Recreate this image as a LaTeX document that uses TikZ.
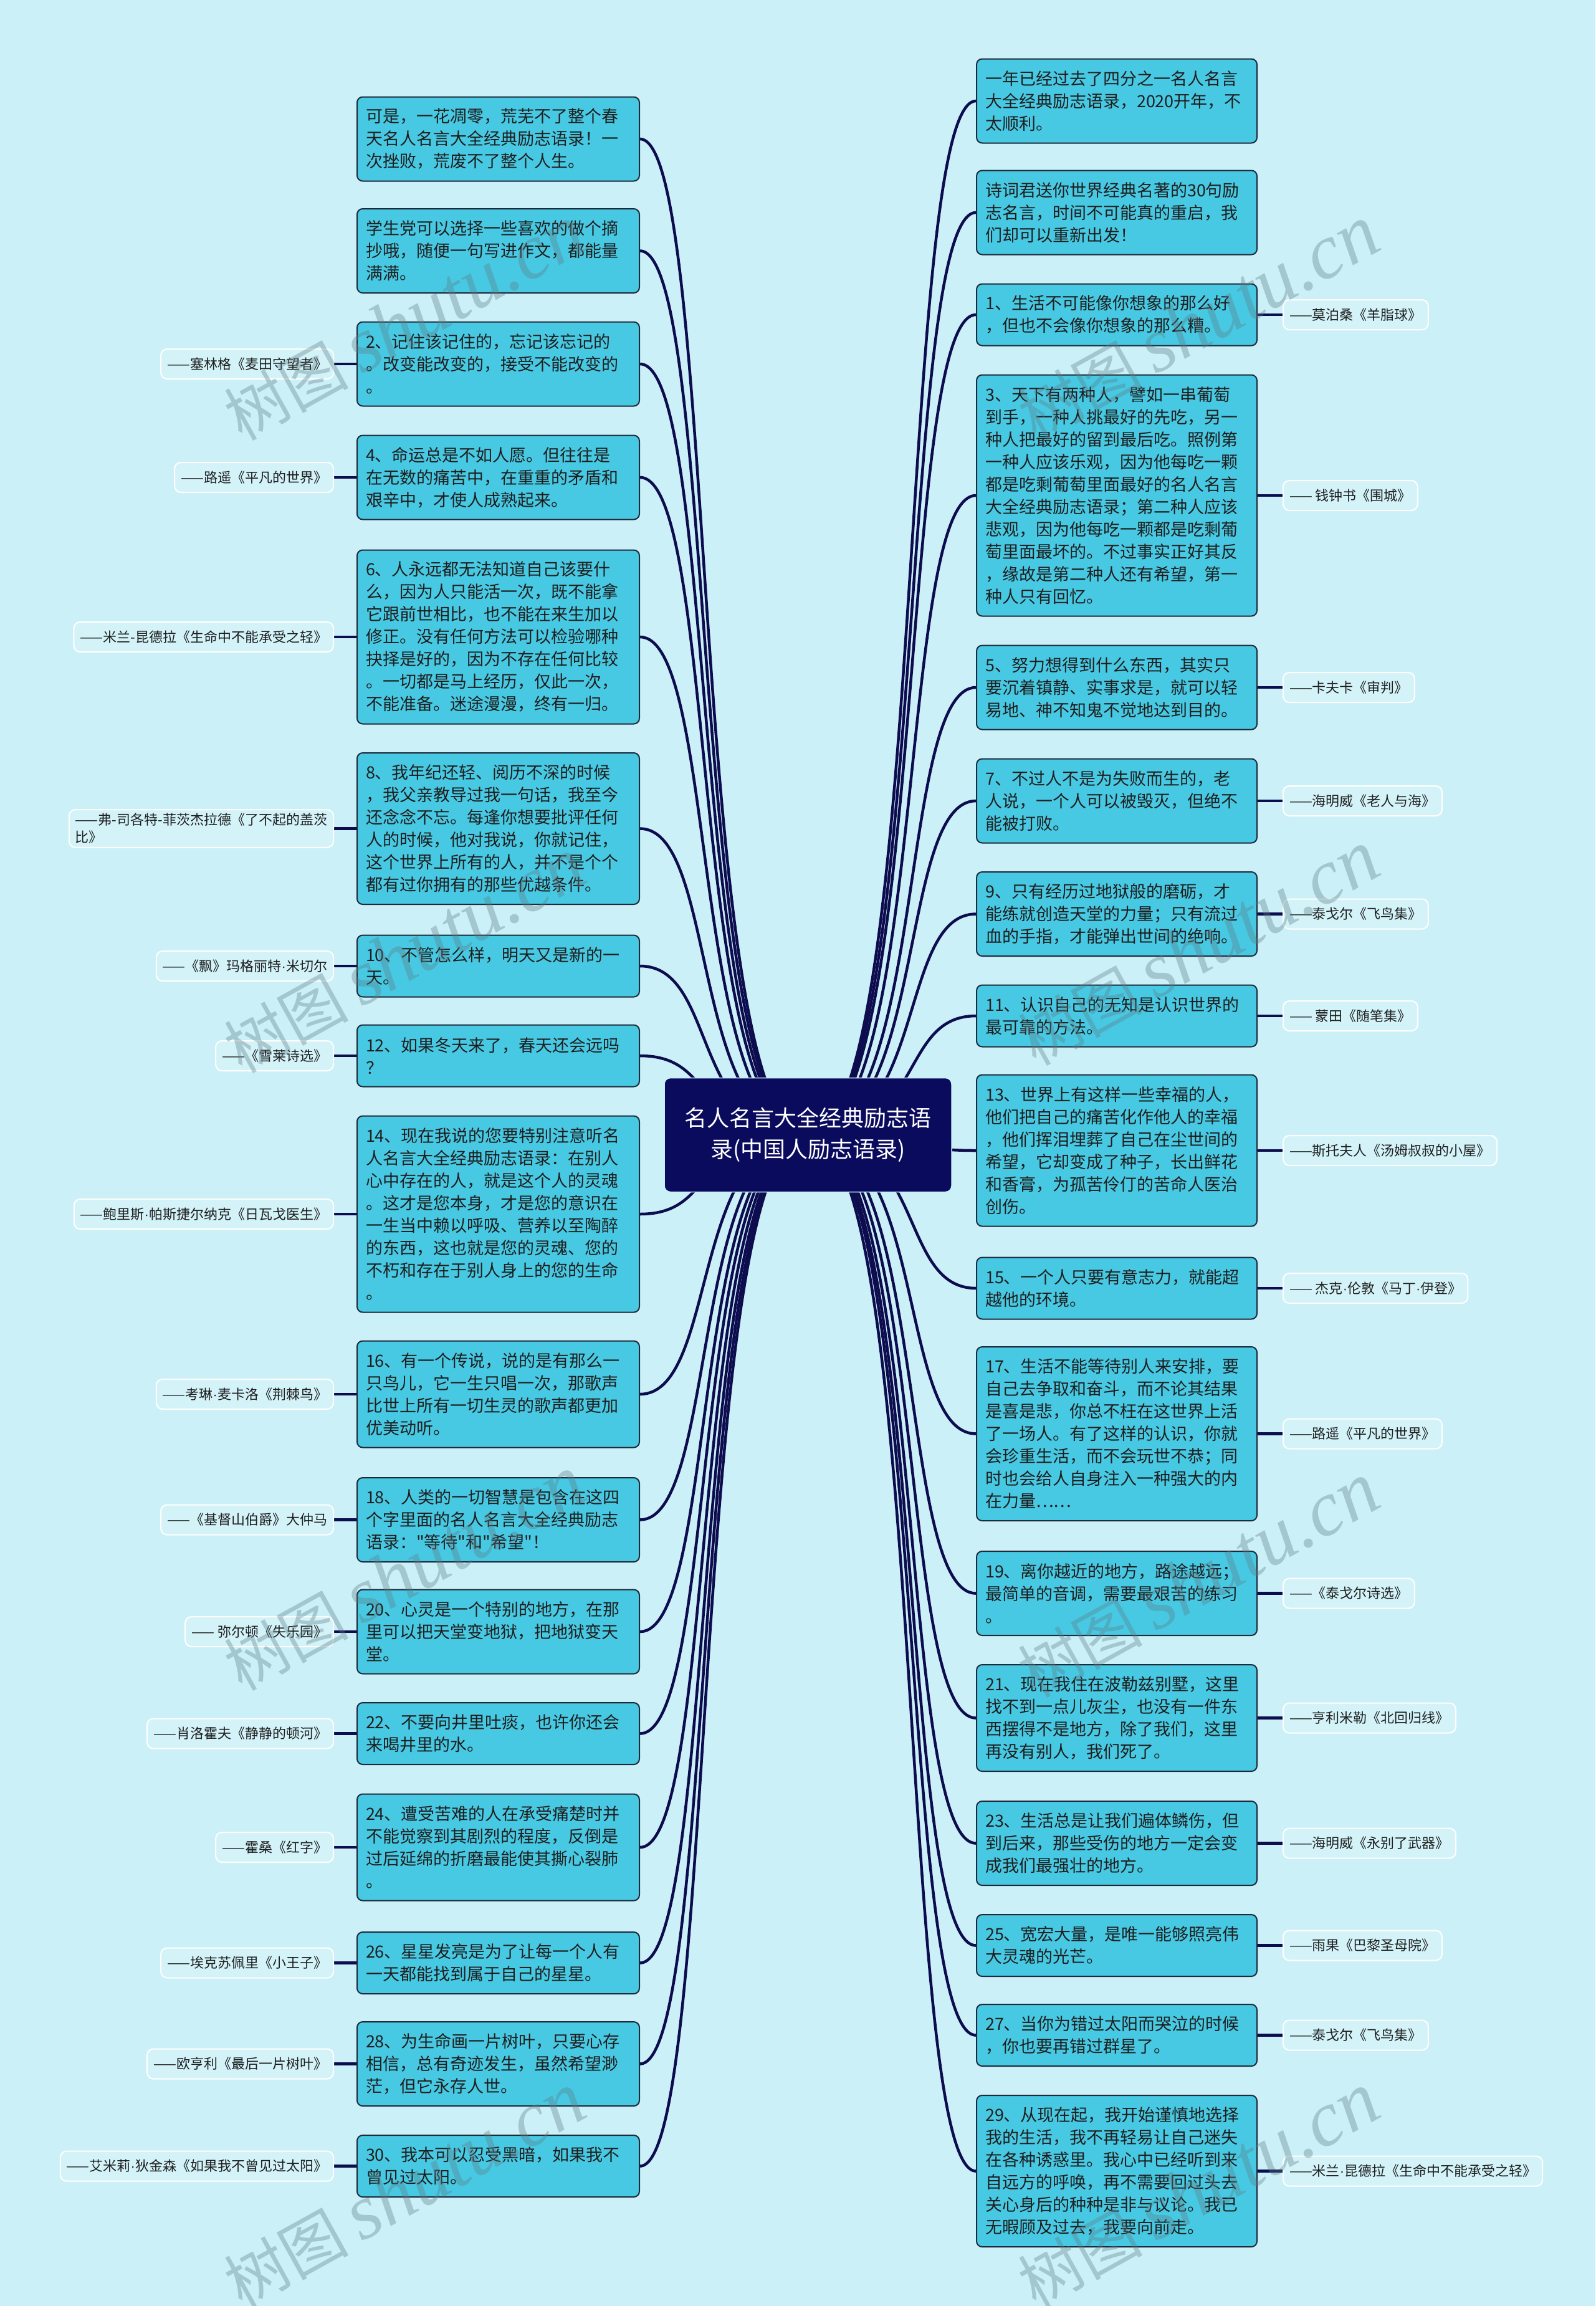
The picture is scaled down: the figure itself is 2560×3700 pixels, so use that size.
\documentclass[tikz,border=0pt]{standalone}
\usepackage{fontspec}
\setmainfont{Noto Sans CJK SC}
\newfontfamily\wmlatin{Liberation Serif}
\newfontfamily\latinf{Liberation Sans}
\newfontfamily\qf{Noto Sans CJK SC}
\newcommand\md{{\latinf\textperiodcentered}}
\newcommand\sq{{\qf"}}
\pgfdeclarelayer{bg}
\pgfdeclarelayer{fg}
\pgfsetlayers{bg,main,fg}
\definecolor{bgc}{HTML}{CCF0F7}
\definecolor{boxc}{HTML}{48C9E3}
\definecolor{boxb}{HTML}{1E2A3A}
\definecolor{navy}{HTML}{0C0C4E}
\definecolor{rootc}{HTML}{0B0B5E}
\definecolor{lblf}{HTML}{D3F3F9}
\definecolor{txtc}{HTML}{1E1E1E}
\definecolor{wmc}{HTML}{5E7C86}
\tikzset{
  qbox/.style={draw=boxb, line width=2pt, fill=boxc, rounded corners=9pt, align=left,
    inner xsep=14pt, inner ysep=0pt, font=\fontsize{27}{36}\selectfont, text=txtc, minimum height=#1},
  lq/.style={qbox={#1}, text width=425pt},
  rq/.style={qbox={#1}, text width=422pt},
  lbl/.style={draw=white, line width=2pt, fill=lblf, rounded corners=10pt, align=left,
    inner xsep=10pt, inner ysep=6pt, minimum height=48pt, font=\fontsize{22}{28}\selectfont, text=txtc},
  lblL/.style={lbl, anchor=east},
  lblR/.style={lbl, anchor=west},
  conn/.style={draw=navy, line width=4.5pt},
  rootn/.style={draw=white!70!boxc, line width=1.5pt, fill=rootc, rounded corners=10pt, align=center,
    text=white, minimum width=461pt, minimum height=183pt, font=\fontsize{36}{50}\selectfont},
  wmark/.style={text=wmc, text opacity=0.36, rotate=29, inner sep=0pt}
}
\begin{document}
\begin{tikzpicture}[x=1pt,y=-1pt]
\useasboundingbox (0,0) rectangle (2560,3700);
\begin{pgfonlayer}{bg}
\fill[bgc] (0,0) rectangle (2560,3700);
\end{pgfonlayer}

% ---------- left boxes ----------
\node[lq=135pt] (L1) at (799.5,223) {可是，一花凋零，荒芜不了整个春\\天名人名言大全经典励志语录！一\\次挫败，荒废不了整个人生。};
\node[lq=135pt] (L2) at (799.5,402.5) {学生党可以选择一些喜欢的做个摘\\抄哦，随便一句写进作文，都能量\\满满。};
\node[lq=135pt] (L3) at (799.5,584) {2、记住该记住的，忘记该忘记的\\。改变能改变的，接受不能改变的\\。};
\node[lq=135pt] (L4) at (799.5,766) {4、命运总是不如人愿。但往往是\\在无数的痛苦中，在重重的矛盾和\\艰辛中，才使人成熟起来。};
\node[lq=279pt] (L5) at (799.5,1022) {6、人永远都无法知道自己该要什\\么，因为人只能活一次，既不能拿\\它跟前世相比，也不能在来生加以\\修正。没有任何方法可以检验哪种\\抉择是好的，因为不存在任何比较\\。一切都是马上经历，仅此一次，\\不能准备。迷途漫漫，终有一归。};
\node[lq=243pt] (L6) at (799.5,1329.5) {8、我年纪还轻、阅历不深的时候\\，我父亲教导过我一句话，我至今\\还念念不忘。每逢你想要批评任何\\人的时候，他对我说，你就记住，\\这个世界上所有的人，并不是个个\\都有过你拥有的那些优越条件。};
\node[lq=99pt] (L7) at (799.5,1550) {10、不管怎么样，明天又是新的一\\天。};
\node[lq=99pt] (L8) at (799.5,1694) {12、如果冬天来了，春天还会远吗\\？};
\node[lq=315pt] (L9) at (799.5,1948) {14、现在我说的您要特别注意听名\\人名言大全经典励志语录：在别人\\心中存在的人，就是这个人的灵魂\\。这才是您本身，才是您的意识在\\一生当中赖以呼吸、营养以至陶醉\\的东西，这也就是您的灵魂、您的\\不朽和存在于别人身上的您的生命\\。};
\node[lq=171pt] (L10) at (799.5,2237) {16、有一个传说，说的是有那么一\\只鸟儿，它一生只唱一次，那歌声\\比世上所有一切生灵的歌声都更加\\优美动听。};
\node[lq=135pt] (L11) at (799.5,2438.5) {18、人类的一切智慧是包含在这四\\个字里面的名人名言大全经典励志\\语录：\sq 等待\sq 和\sq 希望\sq ！};
\node[lq=135pt] (L12) at (799.5,2618) {20、心灵是一个特别的地方，在那\\里可以把天堂变地狱，把地狱变天\\堂。};
\node[lq=99pt] (L13) at (799.5,2781.5) {22、不要向井里吐痰，也许你还会\\来喝井里的水。};
\node[lq=171pt] (L14) at (799.5,2964) {24、遭受苦难的人在承受痛楚时并\\不能觉察到其剧烈的程度，反倒是\\过后延绵的折磨最能使其撕心裂肺\\。};
\node[lq=99pt] (L15) at (799.5,3149.5) {26、星星发亮是为了让每一个人有\\一天都能找到属于自己的星星。};
\node[lq=135pt] (L16) at (799.5,3311.5) {28、为生命画一片树叶，只要心存\\相信，总有奇迹发生，虽然希望渺\\茫，但它永存人世。};
\node[lq=99pt] (L17) at (799.5,3475.5) {30、我本可以忍受黑暗，如果我不\\曾见过太阳。};

% ---------- right boxes ----------
\node[rq=135pt] (R1) at (1792,162) {一年已经过去了四分之一名人名言\\大全经典励志语录，2020开年，不\\太顺利。};
\node[rq=135pt] (R2) at (1792,341) {诗词君送你世界经典名著的30句励\\志名言，时间不可能真的重启，我\\们却可以重新出发！};
\node[rq=99pt] (R3) at (1792,505) {1、生活不可能像你想象的那么好\\，但也不会像你想象的那么糟。};
\node[rq=387pt] (R4) at (1792,795) {3、天下有两种人，譬如一串葡萄\\到手，一种人挑最好的先吃，另一\\种人把最好的留到最后吃。照例第\\一种人应该乐观，因为他每吃一颗\\都是吃剩葡萄里面最好的名人名言\\大全经典励志语录；第二种人应该\\悲观，因为他每吃一颗都是吃剩葡\\萄里面最坏的。不过事实正好其反\\，缘故是第二种人还有希望，第一\\种人只有回忆。};
\node[rq=135pt] (R5) at (1792,1103) {5、努力想得到什么东西，其实只\\要沉着镇静、实事求是，就可以轻\\易地、神不知鬼不觉地达到目的。};
\node[rq=135pt] (R6) at (1792,1285) {7、不过人不是为失败而生的，老\\人说，一个人可以被毁灭，但绝不\\能被打败。};
\node[rq=135pt] (R7) at (1792,1466.5) {9、只有经历过地狱般的磨砺，才\\能练就创造天堂的力量；只有流过\\血的手指，才能弹出世间的绝响。};
\node[rq=99pt] (R8) at (1792,1630) {11、认识自己的无知是认识世界的\\最可靠的方法。};
\node[rq=243pt] (R9) at (1792,1846) {13、世界上有这样一些幸福的人，\\他们把自己的痛苦化作他人的幸福\\，他们挥泪埋葬了自己在尘世间的\\希望，它却变成了种子，长出鲜花\\和香膏，为孤苦伶仃的苦命人医治\\创伤。};
\node[rq=99pt] (R10) at (1792,2067) {15、一个人只要有意志力，就能超\\越他的环境。};
\node[rq=279pt] (R11) at (1792,2300.5) {17、生活不能等待别人来安排，要\\自己去争取和奋斗，而不论其结果\\是喜是悲，你总不枉在这世界上活\\了一场人。有了这样的认识，你就\\会珍重生活，而不会玩世不恭；同\\时也会给人自身注入一种强大的内\\在力量……};
\node[rq=135pt] (R12) at (1792,2556.5) {19、离你越近的地方，路途越远；\\最简单的音调，需要最艰苦的练习\\。};
\node[rq=171pt] (R13) at (1792,2756.5) {21、现在我住在波勒兹别墅，这里\\找不到一点儿灰尘，也没有一件东\\西摆得不是地方，除了我们，这里\\再没有别人，我们死了。};
\node[rq=135pt] (R14) at (1792,2957.5) {23、生活总是让我们遍体鳞伤，但\\到后来，那些受伤的地方一定会变\\成我们最强壮的地方。};
\node[rq=99pt] (R15) at (1792,3121.5) {25、宽宏大量，是唯一能够照亮伟\\大灵魂的光芒。};
\node[rq=99pt] (R16) at (1792,3265.5) {27、当你为错过太阳而哭泣的时候\\，你也要再错过群星了。};
\node[rq=243pt] (R17) at (1792,3483.5) {29、从现在起，我开始谨慎地选择\\我的生活，我不再轻易让自己迷失\\在各种诱惑里。我心中已经听到来\\自远方的呼唤，再不需要回过头去\\关心身后的种种是非与议论。我已\\无暇顾及过去，我要向前走。};

% ---------- left labels ----------
\node[lblL] (A3) at (536,584) {——塞林格《麦田守望者》};
\node[lblL] (A4) at (536,766) {——路遥《平凡的世界》};
\node[lblL] (A5) at (536,1022) {——米兰-昆德拉《生命中不能承受之轻》};
\node[lblL] (A6) at (536,1329.5) {——弗-司各特-菲茨杰拉德《了不起的盖茨\\比》};
\node[lblL] (A7) at (536,1550) {——《飘》玛格丽特\md 米切尔};
\node[lblL] (A8) at (536,1694) {——《雪莱诗选》};
\node[lblL] (A9) at (536,1948) {——鲍里斯\md 帕斯捷尔纳克《日瓦戈医生》};
\node[lblL] (A10) at (536,2237) {——考琳\md 麦卡洛《荆棘鸟》};
\node[lblL] (A11) at (536,2438.5) {——《基督山伯爵》大仲马};
\node[lblL] (A12) at (536,2618) {—— 弥尔顿《失乐园》};
\node[lblL] (A13) at (536,2781.5) {——肖洛霍夫《静静的顿河》};
\node[lblL] (A14) at (536,2964) {——霍桑《红字》};
\node[lblL] (A15) at (536,3149.5) {——埃克苏佩里《小王子》};
\node[lblL] (A16) at (536,3311.5) {——欧亨利《最后一片树叶》};
\node[lblL] (A17) at (536,3475.5) {——艾米莉\md 狄金森《如果我不曾见过太阳》};

% ---------- right labels ----------
\node[lblR] (B3) at (2058,505) {——莫泊桑《羊脂球》};
\node[lblR] (B4) at (2058,795) {—— 钱钟书《围城》};
\node[lblR] (B5) at (2058,1103) {——卡夫卡《审判》};
\node[lblR] (B6) at (2058,1285) {——海明威《老人与海》};
\node[lblR] (B7) at (2058,1466.5) {——泰戈尔《飞鸟集》};
\node[lblR] (B8) at (2058,1630) {—— 蒙田《随笔集》};
\node[lblR] (B9) at (2058,1846) {——斯托夫人《汤姆叔叔的小屋》};
\node[lblR] (B10) at (2058,2067) {—— 杰克\md 伦敦《马丁\md 伊登》};
\node[lblR] (B11) at (2058,2300.5) {——路遥《平凡的世界》};
\node[lblR] (B12) at (2058,2556.5) {——《泰戈尔诗选》};
\node[lblR] (B13) at (2058,2756.5) {——亨利米勒《北回归线》};
\node[lblR] (B14) at (2058,2957.5) {——海明威《永别了武器》};
\node[lblR] (B15) at (2058,3121.5) {——雨果《巴黎圣母院》};
\node[lblR] (B16) at (2058,3265.5) {——泰戈尔《飞鸟集》};
\node[lblR] (B17) at (2058,3483.5) {——米兰\md 昆德拉《生命中不能承受之轻》};

% ---------- root ----------
\coordinate (rc) at (1296.5,1821);

% ---------- connectors ----------
\begin{pgfonlayer}{bg}
\foreach \i in {1,...,17} {
  \draw[conn] (rc) .. controls +(-190,0) and +(125,0) .. (L\i.east);
  \draw[conn] (rc) .. controls +(190,0) and +(-125,0) .. (R\i.west);
}
\foreach \i in {3,...,17} {
  \draw[conn] (A\i.east) -- (L\i.west);
  \draw[conn] (R\i.east) -- (B\i.west);
}
\end{pgfonlayer}

\node[rootn] (root) at (rc) {名人名言大全经典励志语\\录(中国人励志语录)};

% ---------- watermarks ----------
\begin{pgfonlayer}{fg}
\foreach \wx/\wy [count=\k] in {649/519, 1923/519, 649/1534, 1923/1522, 649/2525, 1923/2536, 649/3515, 1923/3515} {
  \node[wmark] (wm\k) at (\wx,\wy) {\fontsize{100}{100}\selectfont 树图\hspace{20pt}{\wmlatin\itshape\fontsize{125}{125}\selectfont shutu.cn}};
}
\end{pgfonlayer}
\end{tikzpicture}
\end{document}
